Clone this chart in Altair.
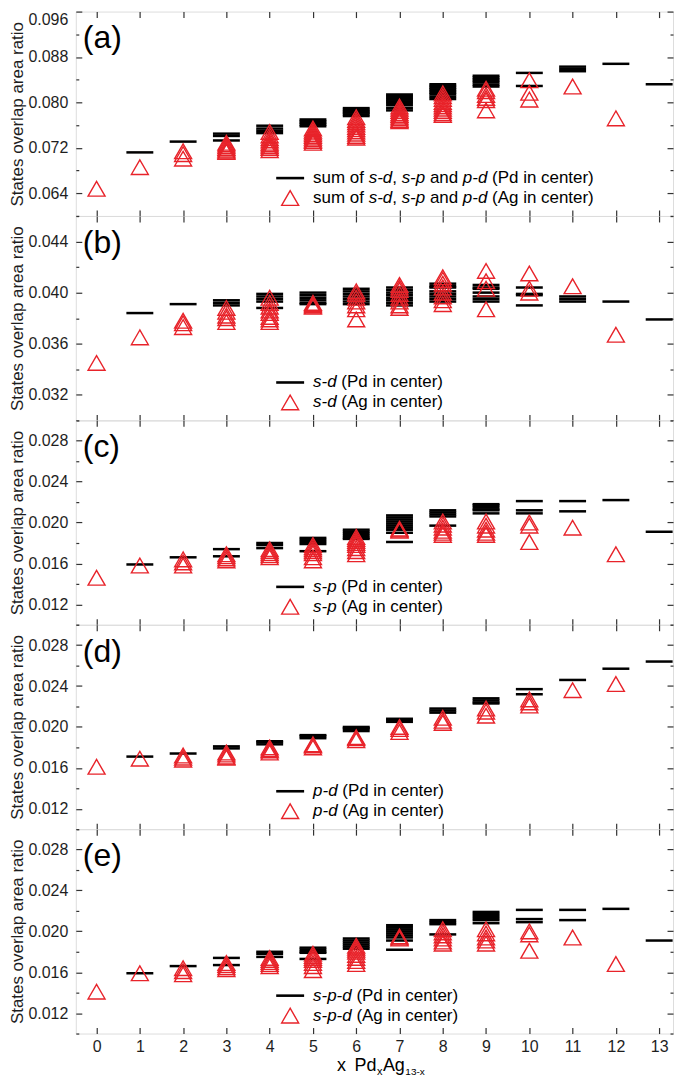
import altair as alt
import pandas as pd

# ---------------- data ----------------
X_VALUES = list(range(14))

A_PD = [
    [],
    [0.0712],
    [0.0731],
    [0.0745, 0.0741, 0.0733],
    [0.0759, 0.0754, 0.0750, 0.0746],
    [0.0770, 0.0767, 0.0764, 0.0761, 0.0758],
    [0.0790, 0.0787, 0.0784, 0.0782, 0.0779, 0.0776],
    [0.0814, 0.0811, 0.0808, 0.0805, 0.0802, 0.0799, 0.0795, 0.0790, 0.0786],
    [0.0832, 0.0829, 0.0826, 0.0823, 0.0820, 0.0817, 0.0814, 0.0810, 0.0806],
    [0.0847, 0.0844, 0.0841, 0.0838, 0.0835, 0.0831, 0.0828],
    [0.0852, 0.0829],
    [0.0863, 0.0859, 0.0855],
    [0.0868],
    [0.0832],
]
A_AG = [
    [0.0648],
    [0.0686],
    [0.0714, 0.0709, 0.0701],
    [0.0729, 0.0726, 0.0723, 0.0720, 0.0717, 0.0715, 0.0713],
    [0.0748, 0.0742, 0.0737, 0.0733, 0.0729, 0.0726, 0.0723, 0.0720, 0.0716],
    [0.0754, 0.0750, 0.0747, 0.0744, 0.0741, 0.0738, 0.0735, 0.0732, 0.0729],
    [0.0774, 0.0769, 0.0765, 0.0761, 0.0757, 0.0753, 0.0749, 0.0745, 0.0741, 0.0738],
    [0.0793, 0.0789, 0.0785, 0.0781, 0.0778, 0.0775, 0.0772, 0.0769, 0.0767],
    [0.0816, 0.0811, 0.0806, 0.0801, 0.0797, 0.0793, 0.0789, 0.0785, 0.0781, 0.0778],
    [0.0824, 0.0820, 0.0813, 0.0808, 0.0804, 0.0786],
    [0.0839, 0.0817, 0.0805],
    [0.0828],
    [0.0772],
    [],
]

B_PD = [
    [],
    [0.0384],
    [0.0391],
    [0.0394, 0.0392, 0.0390],
    [0.0399, 0.0397, 0.0395, 0.0393, 0.0388],
    [0.0400, 0.0398, 0.0396, 0.0394, 0.0392, 0.0391],
    [0.0403, 0.0401, 0.0399, 0.0397, 0.0395, 0.0393, 0.0391],
    [0.0404, 0.0402, 0.0400, 0.0398, 0.0396, 0.0394, 0.0392, 0.0390],
    [0.0407, 0.0405, 0.0404, 0.0401, 0.0399, 0.0397, 0.0395, 0.0393],
    [0.0406, 0.0404, 0.0403, 0.0400, 0.0397, 0.0395, 0.0393],
    [0.0404, 0.0399, 0.0398, 0.0390],
    [0.0397, 0.0395, 0.0393],
    [0.0393],
    [0.0379],
]
B_AG = [
    [0.0345],
    [0.0365],
    [0.0378, 0.0376, 0.0373],
    [0.0388, 0.0385, 0.0382, 0.0380, 0.0377],
    [0.0396, 0.0392, 0.0389, 0.0386, 0.0384, 0.0381, 0.0379, 0.0377],
    [0.0392, 0.0391, 0.0390, 0.0389],
    [0.0401, 0.0399, 0.0396, 0.0393, 0.0390, 0.0387, 0.0379],
    [0.0406, 0.0404, 0.0402, 0.0399, 0.0396, 0.0393, 0.0390, 0.0388],
    [0.0412, 0.0410, 0.0407, 0.0404, 0.0400, 0.0397, 0.0394, 0.0391],
    [0.0417, 0.0409, 0.0403, 0.0387],
    [0.0415, 0.0403, 0.0400],
    [0.0405],
    [0.0367],
    [],
]

C_PD = [
    [],
    [0.0159],
    [0.0166],
    [0.0174, 0.0167],
    [0.0180, 0.0178, 0.0175],
    [0.0185, 0.0183, 0.0181, 0.0179, 0.0172],
    [0.0193, 0.0191, 0.0189, 0.0187, 0.0185, 0.0184],
    [0.0207, 0.0205, 0.0203, 0.0201, 0.0199, 0.0197, 0.0195, 0.0193, 0.0190, 0.0181],
    [0.0212, 0.0210, 0.0208, 0.0206, 0.0197],
    [0.0218, 0.0217, 0.0215, 0.0213, 0.0212, 0.0209],
    [0.0221, 0.0212, 0.0209],
    [0.0221, 0.0211],
    [0.0222],
    [0.0191],
]
C_AG = [
    [0.0146],
    [0.0158],
    [0.0164, 0.0161, 0.0158],
    [0.0169, 0.0167, 0.0165, 0.0163],
    [0.0174, 0.0172, 0.0170, 0.0168, 0.0166],
    [0.0178, 0.0176, 0.0174, 0.0172, 0.0170, 0.0166, 0.0163],
    [0.0186, 0.0184, 0.0182, 0.0180, 0.0178, 0.0175, 0.0172, 0.0169],
    [0.0194, 0.0193, 0.0192],
    [0.0201, 0.0198, 0.0195, 0.0192, 0.0190, 0.0188],
    [0.0201, 0.0197, 0.0193, 0.0190, 0.0188],
    [0.0200, 0.0197, 0.0181],
    [0.0195],
    [0.0169],
    [],
]

D_PD = [
    [],
    [0.0171],
    [0.0174],
    [0.0181, 0.0179],
    [0.0186, 0.0185, 0.0183],
    [0.0192, 0.0191, 0.0189],
    [0.0200, 0.0199, 0.0198, 0.0196],
    [0.0208, 0.0207, 0.0205],
    [0.0218, 0.0216, 0.0214],
    [0.0228, 0.0226, 0.0224, 0.0223],
    [0.0237, 0.0232],
    [0.0246],
    [0.0257],
    [0.0264],
]
D_AG = [
    [0.0161],
    [0.0169],
    [0.0172, 0.0170, 0.0168],
    [0.0175, 0.0173, 0.0171, 0.0170],
    [0.0180, 0.0178, 0.0177, 0.0175],
    [0.0183, 0.0182, 0.0180],
    [0.0190, 0.0189, 0.0187],
    [0.0200, 0.0198, 0.0195],
    [0.0209, 0.0206, 0.0204],
    [0.0218, 0.0215, 0.0211],
    [0.0227, 0.0224, 0.0221],
    [0.0236],
    [0.0242],
    [],
]

E_PD = [
    [],
    [0.0159],
    [0.0166],
    [0.0174, 0.0167],
    [0.0180, 0.0178, 0.0175],
    [0.0184, 0.0182, 0.0180, 0.0179, 0.0173],
    [0.0193, 0.0191, 0.0189, 0.0187, 0.0185, 0.0183],
    [0.0206, 0.0204, 0.0202, 0.0200, 0.0198, 0.0196, 0.0194, 0.0191, 0.0182],
    [0.0211, 0.0209, 0.0207, 0.0197],
    [0.0219, 0.0217, 0.0215, 0.0213, 0.0211, 0.0208],
    [0.0221, 0.0212, 0.0209],
    [0.0221, 0.0211],
    [0.0222],
    [0.0191],
]
E_AG = [
    [0.0141],
    [0.0159],
    [0.0164, 0.0161, 0.0158],
    [0.0169, 0.0167, 0.0165, 0.0163],
    [0.0174, 0.0172, 0.0170, 0.0168, 0.0166],
    [0.0178, 0.0176, 0.0174, 0.0172, 0.0169, 0.0166, 0.0162],
    [0.0186, 0.0184, 0.0182, 0.0180, 0.0177, 0.0174, 0.0171, 0.0168],
    [0.0195, 0.0194, 0.0193],
    [0.0202, 0.0199, 0.0196, 0.0193, 0.0190, 0.0188],
    [0.0202, 0.0198, 0.0194, 0.0191, 0.0188],
    [0.0200, 0.0197, 0.0181],
    [0.0194],
    [0.0168],
    [],
]

A_MAJOR = [0.064, 0.072, 0.080, 0.088, 0.096]
A_MINOR = [0.060, 0.068, 0.076, 0.084, 0.092]
B_MAJOR = [0.032, 0.036, 0.040, 0.044]
B_MINOR = [0.030, 0.034, 0.038, 0.042, 0.046]
CDE_MAJOR = [0.012, 0.016, 0.020, 0.024, 0.028]
CDE_MINOR = [0.010, 0.014, 0.018, 0.022, 0.026, 0.030]

PANEL_TAGS = ["(a)", "(b)", "(c)", "(d)", "(e)"]
LEGEND_NAMES = [
    [("sum of ", False), ("s-d", True), (", ", False), ("s-p", True), (" and ", False), ("p-d", True)],
    [("s-d", True)],
    [("s-p", True)],
    [("p-d", True)],
    [("s-p-d", True)],
]
LEGEND_SUFFIX = [" (Pd in center)", " (Ag in center)"]
Y_TITLE = "States overlap area ratio"
X_TITLE = [("x", 18, 0), ("Pd", 18, 0), ("x", 11, 4), ("Ag", 18, 0), ("13-x", 10, 4)]

# ---------------- style / layout ----------------
FONT = "Liberation Sans"
RED = "#e8232a"
INK = "#1e1e1e"
FRAME = "#333333"
W = 599
H = 205
XDOM = [-0.48, 13.32]

ARIAL = {' ': 278, '(': 333, ')': 333, ',': 278, '-': 333, 'A': 667, 'P': 667,
         'a': 556, 'c': 500, 'd': 556, 'e': 556, 'f': 278, 'g': 556, 'i': 222,
         'm': 833, 'n': 556, 'o': 556, 'p': 556, 'r': 333, 's': 500, 't': 278,
         'u': 556, 'x': 500, '1': 556, '3': 556}


def text_w(s, fs):
    return sum(ARIAL.get(ch, 556) for ch in s) * fs / 1000.0


ONE = pd.DataFrame({"k": [0]})


def frame_df(rows):
    return pd.DataFrame([{"x": i, "v": v} for i, vals in enumerate(rows) for v in vals])


def tick_axis(orient, offset, values, size):
    return alt.Axis(orient=orient, offset=offset, values=values, tickSize=size,
                    tickColor=FRAME, tickWidth=1.2, labels=False, domain=False,
                    grid=False, title=None, minExtent=0)


def text_mark(t, px, py, fs, italic=False, baseline="middle"):
    return alt.Chart(ONE).mark_text(
        text=t, align="left", baseline=baseline, font=FONT, fontSize=fs,
        fontStyle="italic" if italic else "normal", color="black"
    ).encode(x=alt.value(px), y=alt.value(py))


def legend_texts(segments, x0, y, fs=17):
    out = []
    cur = x0
    for t, it in segments:
        lead = len(t) - len(t.lstrip(" "))
        if t.strip():
            out.append(text_mark(t.strip(), cur + text_w(t[:lead], fs), y, fs, it))
        cur += text_w(t, fs)
    return out


def panel(idx, pd_rows, ag_rows, domain, major, minor, last):
    xs = alt.Scale(domain=XDOM, nice=False, zero=False)
    ys = alt.Scale(domain=domain, nice=False, zero=False)
    dpd = frame_df(pd_rows)
    dag = frame_df(ag_rows)

    x_lab = alt.Axis(orient="bottom", values=X_VALUES, ticks=False, domain=False,
                     grid=False, labelFontSize=16, labelFont=FONT, labelColor=INK,
                     labelPadding=5, format="d", title=None) if last else None
    y_lab = alt.Axis(orient="left", values=major, ticks=False, domain=False, grid=False,
                     format=".3f", labelFontSize=16, labelFont=FONT, labelColor=INK,
                     labelPadding=8, labelFlush=True, title=Y_TITLE, titleFontSize=17,
                     titleFont=FONT, titleFontWeight="normal", titleColor=INK,
                     titlePadding=1)

    dashes = alt.Chart(dpd).mark_tick(orient="horizontal", size=27, thickness=2.5,
                                      color="black", opacity=1).encode(
        x=alt.X("x:Q", scale=xs, axis=x_lab),
        y=alt.Y("v:Q", scale=ys, axis=y_lab),
    )
    tris = alt.Chart(dag).mark_point(shape="triangle-up", size=290, filled=False,
                                     color=RED, strokeWidth=1.4, opacity=1).encode(
        x=alt.X("x:Q", scale=xs, axis=tick_axis("top", -H, X_VALUES, 6)),
        y=alt.Y("v:Q", scale=ys, axis=tick_axis("right", -W, major, 6)),
    )
    ghost1 = alt.Chart(dag).mark_point(opacity=0).encode(
        x=alt.X("x:Q", scale=xs, axis=tick_axis("bottom", -H, X_VALUES, 6)),
        y=alt.Y("v:Q", scale=ys, axis=tick_axis("left", -W, major, 6)),
    )
    ghost2 = alt.Chart(dag).mark_point(opacity=0).encode(
        x=alt.X("x:Q", scale=xs, axis=None),
        y=alt.Y("v:Q", scale=ys, axis=tick_axis("right", -W, minor, 3)),
    )
    ghost3 = alt.Chart(dag).mark_point(opacity=0).encode(
        x=alt.X("x:Q", scale=xs, axis=None),
        y=alt.Y("v:Q", scale=ys, axis=tick_axis("left", -W, minor, 3)),
    )

    layers = [dashes, tris, ghost1, ghost2, ghost3]

    # panel tag
    layers.append(text_mark(PANEL_TAGS[idx], 7, 37, 32, baseline="alphabetic"))

    # legend
    r1, r2 = 167, 187
    layers.append(alt.Chart(ONE).mark_rule(color="black", strokeWidth=2.6).encode(
        x=alt.value(201), x2=alt.value(229), y=alt.value(r1)))
    layers.append(alt.Chart(ONE).mark_point(shape="triangle-up", size=290, filled=False,
                                            color=RED, strokeWidth=1.4, opacity=1).encode(
        x=alt.value(215), y=alt.value(r2)))
    name = LEGEND_NAMES[idx]
    layers += legend_texts(name + [(LEGEND_SUFFIX[0], False)], 238, r1)
    layers += legend_texts(name + [(LEGEND_SUFFIX[1], False)], 238, r2)

    if last:
        cur = 262
        gaps = [0, 8.5, 0.5, 0.5, 0.5]
        for (t, fs, dy), g in zip(X_TITLE, gaps):
            cur += g
            layers.append(text_mark(t, cur, 243 + dy, fs, baseline="alphabetic"))
            cur += text_w(t, fs)

    return alt.layer(*layers).properties(width=W, height=H).resolve_scale(
        x="shared", y="shared").resolve_axis(x="independent", y="independent")


chart = alt.vconcat(
    panel(0, A_PD, A_AG, [0.060, 0.096], A_MAJOR, A_MINOR, False),
    panel(1, B_PD, B_AG, [0.030, 0.046], B_MAJOR, B_MINOR, False),
    panel(2, C_PD, C_AG, [0.010, 0.030], CDE_MAJOR, CDE_MINOR, False),
    panel(3, D_PD, D_AG, [0.010, 0.030], CDE_MAJOR, CDE_MINOR, False),
    panel(4, E_PD, E_AG, [0.010, 0.030], CDE_MAJOR, CDE_MINOR, True),
    spacing=0,
    bounds="flush",
).properties(
    padding={"left": 0, "top": 0, "right": 2, "bottom": 0}
).configure_view(
    stroke=FRAME, strokeWidth=1.3
).configure(background="white")

chart.save("out.html", embed_options={"renderer": "svg", "actions": False})
